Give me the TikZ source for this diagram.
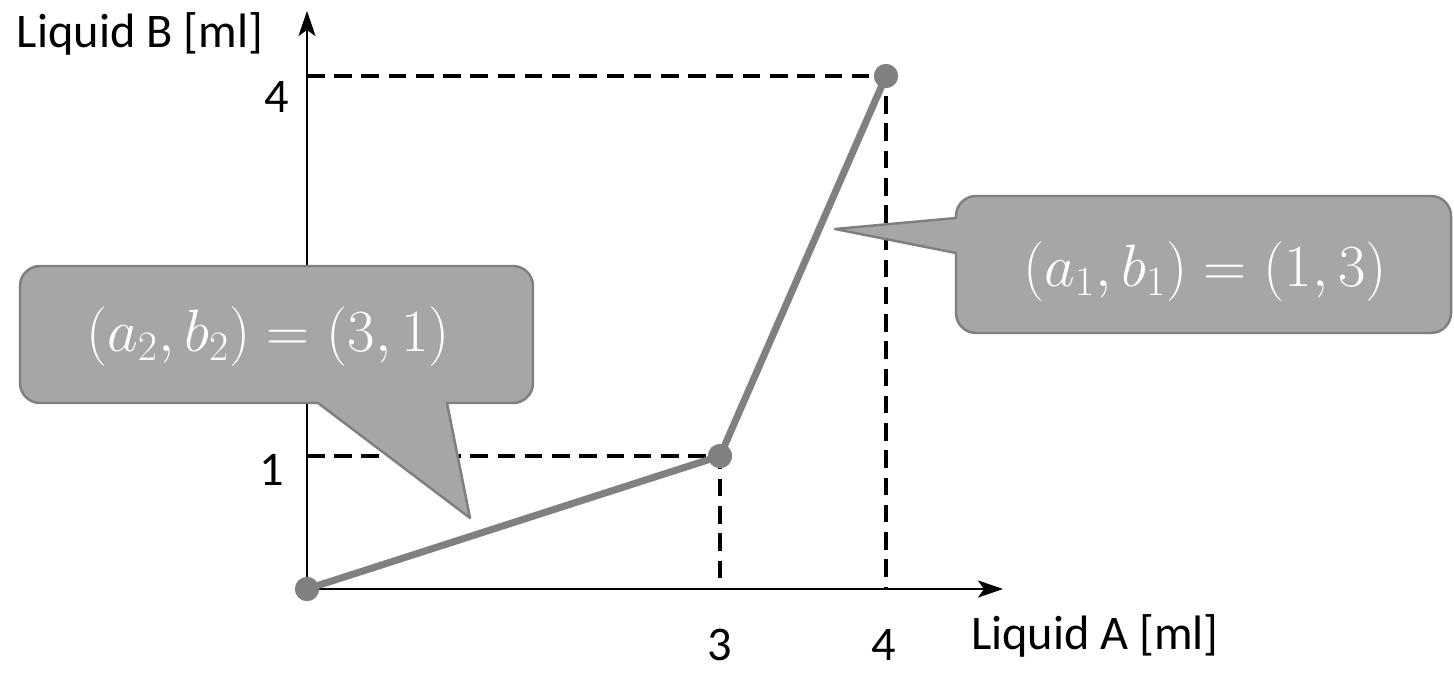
\RequirePackage{fix-cm}
\documentclass[tikz,border=0pt]{standalone}
\usepackage{fontspec}
\setmainfont{Carlito}
\usepackage{amsmath}
\usetikzlibrary{arrows.meta}
\definecolor{boxfill}{HTML}{A6A6A6}
\definecolor{boxline}{HTML}{7F7F7F}
\definecolor{pathgray}{HTML}{808080}

\begin{document}
\begin{tikzpicture}[>={Stealth[length=0.5cm, width=0.34cm, inset=0.12cm]},
		axis/.style={line width=1.6pt},
		guide/.style={line width=2.2pt, dash pattern=on 10pt off 5.5pt},
		mixpath/.style={pathgray, line width=4pt},
		pt/.style={circle, fill=pathgray, inner sep=0pt, minimum size=0.48cm},
		callout/.style={fill=boxfill, draw=boxline, line width=1.4pt, line join=round},
		calltext/.style={text=white, font=\fontsize{34}{40}\selectfont},
		lbl/.style={font=\fontsize{27.5}{32}\selectfont}]
		
		\useasboundingbox (0,0) rectangle (29.08,13.44);
		
		\coordinate (o) at (6.14,1.66);
		\coordinate (xend) at (20.06,1.66);
		\coordinate (yend) at (6.14,13.22);
		
		% guides
		\draw[guide] (6.14,4.32) -- (14.40,4.32) -- (14.40,1.66);
		\draw[guide] (6.14,11.92) -- (17.72,11.92) -- (17.72,1.66);
		
		% axes
		\draw[axis, ->] (o) -- (xend);
		\draw[axis, ->] (o) -- (yend);
		\node[lbl] (ylab) at (2.80,12.76) {Liquid B [ml]};
		\node[lbl] (xlab) at (21.90,0.72) {Liquid A [ml]};
		\node[lbl] (y4) at (5.54,11.50) {4};
		\node[lbl] (y1) at (5.44,4.04) {1};
		\node[lbl, inner sep=1pt] (x3) at (14.40,0.54) {3};
		\node[lbl, inner sep=1pt] (x4) at (17.68,0.54) {4};
		
		% the two steps
		\node[pt] (p0) at (o) {};
		\node[pt] (p1) at (14.40,4.32) {};
		\node[pt] (p2) at (17.72,11.92) {};
		\draw[mixpath, line join=round] (p0.center) -- (p1.center) -- (p2.center);
		\node[pt] at (p0) {};
		\node[pt] at (p1) {};
		\node[pt] at (p2) {};
		
		% callouts
		\draw[callout] (0.80,8.12) -- (10.26,8.12) arc (90:0:0.4) -- (10.66,5.78)
		arc (0:-90:0.4) -- (8.94,5.38) -- (9.40,3.08) -- (6.36,5.38)
		-- (0.80,5.38) arc (-90:-180:0.4) -- (0.40,7.72) arc (180:90:0.4) -- cycle;
		\node[calltext] (c2) at (5.36,6.70) {$(a_2,b_2)=(3,1)$};
		
		\draw[callout] (19.52,9.52) -- (28.62,9.52) arc (90:0:0.4) -- (29.02,7.18)
		arc (0:-90:0.4) -- (19.52,6.78) arc (-90:-180:0.4) -- (19.12,8.38)
		-- (16.70,8.86) -- (19.12,9.08) -- (19.12,9.12) arc (180:90:0.4) -- cycle;
		\node[calltext] (c1) at (24.10,8.00) {$(a_1,b_1)=(1,3)$};
		
	\end{tikzpicture}
\end{document}
